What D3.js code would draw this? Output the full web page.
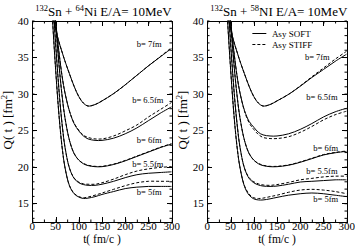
<!DOCTYPE html>
<html>
<head>
<meta charset="utf-8">
<style>
body { margin: 0; background: #fff; }
text { font-family: "Liberation Serif", "DejaVu Serif", serif; fill: #000; }
.curve { fill: none; stroke: #000; stroke-width: 1; }
.dashed { stroke-dasharray: 3,2; }
.tick-label { font-size: 11px; }
.b-label { font-size: 8.5px; }
.legend-text { font-size: 9px; }
</style>
</head>
<body>
<svg id="vis" width="355" height="247"></svg>
<script src="https://d3js.org/d3.v7.min.js"></script>
<script>
// shared time grid (fm/c)
var times = [40, 45, 50, 55, 60, 65, 70, 80, 90, 100, 110, 120, 135, 150, 175, 200, 225, 250, 275, 300];
var bLabels = ["b= 5fm", "b= 5.5fm", "b= 6fm", "b= 6.5fm", "b= 7fm"];
var yTicks = [15, 20, 25, 30, 35, 40];
var xTicks = [0, 50, 100, 150, 200, 250, 300];

// 132Sn + 64Ni, Q(t) per impact parameter (b=5 ... b=7)
var niSoft = [
  [44, 38.5, 33.5, 29, 25.2, 22.2, 20, 17.4, 16.3, 15.85, 15.65, 15.7, 15.9, 16.2, 16.6, 17.0, 17.2, 17.3, 17.3, 17.3],
  [47, 42, 37, 32.5, 28.5, 25.3, 22.8, 19.8, 18.4, 17.8, 17.55, 17.45, 17.45, 17.6, 18.0, 18.5, 18.9, 19.1, 19.2, 19.3],
  [49, 44.5, 40, 35.8, 32.2, 29.2, 26.8, 23.6, 21.8, 20.9, 20.4, 20.15, 20.0, 20.0, 20.3, 20.8, 21.4, 22.0, 22.6, 23.1],
  [46, 43, 40, 37, 34.3, 32, 30.2, 27.6, 25.9, 24.9, 24.2, 23.8, 23.6, 23.6, 23.9, 24.5, 25.3, 26.3, 27.3, 28.2],
  [41.8, 40.3, 38.9, 37.6, 36.5, 35.5, 34.5, 32.7, 31.0, 29.6, 28.7, 28.3, 28.5, 29.0, 30.0, 31.2, 32.5, 33.8, 35.0, 36.2]
];
var niStiff = [
  [44, 38.5, 33.5, 29, 25.2, 22.2, 20, 17.4, 16.35, 15.9, 15.75, 15.85, 16.1, 16.4, 16.9, 17.4, 17.8, 18.0, 18.0, 18.0],
  [47, 42, 37, 32.5, 28.5, 25.3, 22.8, 19.8, 18.45, 17.9, 17.65, 17.6, 17.6, 17.8, 18.3, 18.9, 19.4, 19.7, 19.9, 20.0],
  [49, 44.5, 40, 35.8, 32.2, 29.2, 26.8, 23.6, 21.8, 20.9, 20.45, 20.2, 20.05, 20.05, 20.35, 20.85, 21.45, 22.05, 22.65, 23.15],
  [46, 43, 40, 37, 34.3, 32, 30.2, 27.6, 25.95, 25.0, 24.3, 24.0, 23.8, 23.8, 24.2, 24.9, 25.7, 26.8, 27.8, 28.8],
  [41.8, 40.3, 38.9, 37.6, 36.5, 35.5, 34.5, 32.7, 31.0, 29.6, 28.7, 28.3, 28.5, 29.0, 30.0, 31.2, 32.5, 33.8, 35.05, 36.3]
];

// 132Sn + 58Ni
var niLightSoft = [
  [44, 38.5, 33.5, 29, 25.2, 22.2, 20, 17.3, 16.1, 15.6, 15.45, 15.45, 15.6, 15.8, 16.1, 16.3, 16.4, 16.3, 16.1, 15.9],
  [47, 42, 37, 32.5, 28.5, 25.3, 22.8, 19.8, 18.4, 17.8, 17.5, 17.35, 17.3, 17.35, 17.6, 17.9, 18.0, 18.1, 18.2, 18.2],
  [49, 44.5, 40, 35.8, 32.2, 29.2, 26.8, 23.6, 21.8, 20.9, 20.4, 20.15, 20.0, 20.0, 20.2, 20.6, 21.1, 21.6, 21.9, 22.1],
  [46, 43, 40, 37, 34.3, 32, 30.2, 27.7, 26.2, 25.4, 24.7, 24.35, 24.2, 24.2, 24.5, 25.1, 25.9, 26.8, 27.5, 28.0],
  [41.8, 40.3, 38.9, 37.6, 36.5, 35.5, 34.5, 32.7, 31.0, 29.6, 28.7, 28.3, 28.5, 29.0, 29.9, 31.0, 32.2, 33.3, 34.4, 35.4]
];
var niLightStiff = [
  [44, 38.5, 33.5, 29, 25.2, 22.2, 20, 17.4, 16.25, 15.75, 15.65, 15.7, 15.9, 16.1, 16.5, 16.8, 16.9, 16.8, 16.6, 16.3],
  [47, 42, 37, 32.5, 28.5, 25.3, 22.8, 19.8, 18.5, 17.95, 17.65, 17.5, 17.45, 17.55, 17.85, 18.2, 18.4, 18.6, 18.7, 18.7],
  [49, 44.5, 40, 35.8, 32.2, 29.2, 26.8, 23.6, 21.8, 20.9, 20.45, 20.2, 20.05, 20.05, 20.25, 20.65, 21.15, 21.65, 21.95, 22.15],
  [46, 43, 40, 37, 34.3, 32, 30.2, 27.6, 26.0, 25.1, 24.4, 24.0, 23.85, 23.85, 24.1, 24.7, 25.5, 26.4, 27.1, 27.6],
  [41.8, 40.3, 38.9, 37.6, 36.5, 35.5, 34.5, 32.7, 31.0, 29.6, 28.7, 28.3, 28.5, 29.0, 29.9, 31.05, 32.3, 33.5, 34.7, 35.8]
];

var svg = d3.select("#vis");

function drawPanel(left, soft, stiff, target, nucleus, labelPos, withLegend, id) {
  var x = d3.scaleLinear().domain([0, 300]).range([left, left + 139.4]);
  var y = d3.scaleLinear().domain([12.5, 40]).range([221.5, 20.5]);
  var g = svg.append("g");

  g.append("clipPath").attr("id", id)
    .append("rect")
    .attr("x", x(0)).attr("y", y(40))
    .attr("width", x(300) - x(0)).attr("height", y(12.5) - y(40));

  var line = d3.line()
    .x(function(d, i) { return x(times[i]); })
    .y(function(d) { return y(d); })
    .curve(d3.curveCatmullRom);

  var curves = g.append("g").attr("clip-path", "url(#" + id + ")");
  soft.forEach(function(s) {
    curves.append("path").attr("class", "curve").attr("d", line(s));
  });
  stiff.forEach(function(s) {
    curves.append("path").attr("class", "curve dashed").attr("d", line(s));
  });

  // frame
  g.append("rect")
    .attr("x", Math.round(x(0)) + 0.5).attr("y", Math.round(y(40)) + 0.5)
    .attr("width", Math.round(x(300)) - Math.round(x(0)))
    .attr("height", Math.round(y(12.5)) - Math.round(y(40)))
    .attr("fill", "none").attr("stroke", "#000");

  // minor ticks on all four sides, pointing inward
  var axB = d3.axisBottom(x).tickValues(d3.range(0, 301, 25)).tickSize(-2.5).tickFormat("");
  var axT = d3.axisTop(x).tickValues(d3.range(0, 301, 25)).tickSize(-2.5).tickFormat("");
  var axL = d3.axisLeft(y).tickValues(d3.range(13, 41, 1)).tickSize(-2.5).tickFormat("");
  var axR = d3.axisRight(y).tickValues(d3.range(13, 41, 1)).tickSize(-2.5).tickFormat("");
  [[axB, "translate(0," + Math.round(y(12.5)) + ")"], [axT, "translate(0," + Math.round(y(40)) + ")"],
   [axL, "translate(" + Math.round(x(0)) + ",0)"], [axR, "translate(" + Math.round(x(300)) + ",0)"]].forEach(function(a) {
    var ag = g.append("g").attr("transform", a[1]).call(a[0]);
    ag.select(".domain").remove();
    ag.selectAll("line").attr("stroke", "#000");
  });
  // major ticks longer
  g.selectAll(".major-x").data(xTicks.slice(1, -1)).enter().append("line")
    .attr("x1", function(d) { return Math.round(x(d)) + 0.5; })
    .attr("x2", function(d) { return Math.round(x(d)) + 0.5; })
    .attr("y1", Math.round(y(12.5))).attr("y2", Math.round(y(12.5)) - 5).attr("stroke", "#000");
  g.selectAll(".major-xt").data(xTicks.slice(1, -1)).enter().append("line")
    .attr("x1", function(d) { return Math.round(x(d)) + 0.5; })
    .attr("x2", function(d) { return Math.round(x(d)) + 0.5; })
    .attr("y1", Math.round(y(40))).attr("y2", Math.round(y(40)) + 5).attr("stroke", "#000");
  g.selectAll(".major-y").data(yTicks).enter().append("line")
    .attr("y1", function(d) { return Math.round(y(d)) + 0.5; })
    .attr("y2", function(d) { return Math.round(y(d)) + 0.5; })
    .attr("x1", Math.round(x(0))).attr("x2", Math.round(x(0)) + 5).attr("stroke", "#000");
  g.selectAll(".major-yr").data(yTicks).enter().append("line")
    .attr("y1", function(d) { return Math.round(y(d)) + 0.5; })
    .attr("y2", function(d) { return Math.round(y(d)) + 0.5; })
    .attr("x1", Math.round(x(300))).attr("x2", Math.round(x(300)) - 5).attr("stroke", "#000");

  // tick labels
  g.selectAll(".xl").data(xTicks).enter().append("text")
    .attr("class", "tick-label")
    .attr("x", function(d) { return x(d); })
    .attr("y", 230)
    .attr("text-anchor", "middle")
    .text(function(d) { return d; });
  g.selectAll(".yl").data(yTicks).enter().append("text")
    .attr("class", "tick-label")
    .attr("x", x(0) - 3.5)
    .attr("y", function(d) { return y(d) + 4; })
    .attr("text-anchor", "end")
    .text(function(d) { return d; });

  // axis titles
  g.append("text")
    .attr("transform", "translate(" + (x(0) - 20) + ",120) rotate(-90)")
    .attr("text-anchor", "middle")
    .style("font-size", "13px")
    .html('Q( t )  [fm<tspan dy="-5" style="font-size:8.5px">2</tspan><tspan dy="5">]</tspan>');
  g.append("text")
    .attr("x", x(150)).attr("y", 243)
    .attr("text-anchor", "middle")
    .style("font-size", "11.5px")
    .text("t( fm/c )");

  // title
  var title = g.append("text")
    .attr("x", x(0) + 3).attr("y", 16)
    .style("font-size", "13px");
  title.append("tspan").attr("dy", -5).style("font-size", "8.5px").text("132");
  title.append("tspan").attr("dy", 5).text("Sn + ");
  title.append("tspan").attr("dy", -5).style("font-size", "8.5px").text(target);
  title.append("tspan").attr("dy", 5).text(nucleus + "  E/A= 10MeV");

  // impact parameter labels
  g.selectAll(".bl").data(bLabels).enter().append("text")
    .attr("class", "b-label")
    .attr("x", function(d, i) { return x(labelPos[i][0]); })
    .attr("y", function(d, i) { return y(labelPos[i][1]); })
    .text(function(d) { return d; });

  if (withLegend) {
    var lg = g.append("g");
    lg.append("line").attr("x1", x(97)).attr("x2", x(127)).attr("y1", 33.5).attr("y2", 33.5).attr("stroke", "#000");
    lg.append("line").attr("x1", x(97)).attr("x2", x(127)).attr("y1", 44.5).attr("y2", 44.5)
      .attr("stroke", "#000").attr("stroke-dasharray", "3,2");
    lg.append("text").attr("class", "legend-text").attr("x", x(139)).attr("y", 37).text("Asy SOFT");
    lg.append("text").attr("class", "legend-text").attr("x", x(139)).attr("y", 48).text("Asy STIFF");
  }
}

// label anchors in data units [t, Q]
var labelPosA = [[225, 16.1], [215, 19.9], [225, 23.3], [215, 28.7], [225, 36.4]];
var labelPosB = [[228, 15.1], [213, 19.0], [228, 22.2], [213, 29.1], [210, 34.6]];

drawPanel(32.3, niSoft, niStiff, "64", "Ni", labelPosA, false, "clipA");
drawPanel(207.3, niLightSoft, niLightStiff, "58", "NI", labelPosB, true, "clipB");
</script>
</body>
</html>
